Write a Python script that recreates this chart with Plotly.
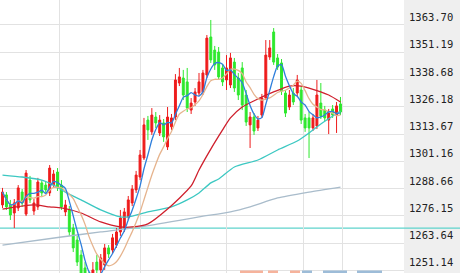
import plotly.graph_objects as go
import pandas as pd

# ---------------- data ----------------
opens = [1281.2,1285.8,1281.2,1277.5,1279.8,1287.1,1277.0,1292.6,1278.4,1280.3,
         1291.3,1290.3,1286.7,1290.3,1296.3,1290.3,1278.0,1278.9,1270.6,1265.1,
         1258.2,1252.3,1246.8,1243.1,1255.0,1251.4,1253.7,1261.5,1260.5,1262.8,
         1268.8,1270.6,1275.7,1282.1,1288.1,1294.0,1302.7,1320.1,1314.7,1321.5,
         1314.2,1318.8,1307.8,1317.0,1321.5,1337.1,1339.4,1337.6,1324.7,1328.4,
         1332.5,1333.0,1340.8,1358.2,1352.2,1351.3,1344.0,1338.5,1336.2,1346.7,
         1339.4,1344.0,1331.6,1317.9,1321.5,1316.5,1322.4,1330.2,1349.0,1360.5,
         1348.6,1346.3,1332.5,1326.1,1332.5,1332.5,1333.9,1321.1,1321.1,1316.5,
         1317.4,1327.9,1324.7,1320.1,1325.2,1322.4,1327.5]
closes = [1287.1,1280.3,1276.6,1282.1,1289.0,1282.1,1295.8,1283.5,1282.1,1291.7,
          1286.7,1288.1,1298.1,1295.4,1289.0,1280.3,1281.2,1268.8,1261.5,1255.0,
          1249.1,1244.5,1243.1,1251.4,1251.4,1256.9,1261.5,1258.7,1266.1,1268.8,
          1275.2,1278.0,1283.5,1288.5,1294.9,1304.1,1317.9,1315.6,1322.4,1318.8,
          1320.1,1312.4,1321.5,1321.1,1338.5,1339.9,1331.6,1325.6,1327.9,1333.0,
          1337.6,1341.7,1357.7,1347.7,1345.4,1339.9,1337.6,1344.0,1348.6,1334.8,
          1331.6,1327.0,1319.2,1321.5,1315.1,1320.1,1330.2,1349.9,1353.2,1346.7,
          1344.4,1333.4,1323.3,1331.6,1328.4,1338.5,1320.1,1316.5,1316.5,1321.1,
          1331.6,1322.0,1321.1,1323.3,1322.4,1326.6,1323.8]
highs = [1289.0,1287.1,1283.5,1283.9,1290.3,1288.5,1297.2,1294.5,1283.9,1293.6,
         1292.6,1292.2,1299.5,1297.2,1298.1,1292.6,1283.5,1280.7,1272.5,1267.0,
         1260.5,1255.0,1250.5,1255.0,1258.2,1258.7,1263.3,1262.8,1267.9,1270.6,
         1278.9,1279.8,1285.3,1290.3,1296.8,1306.4,1321.1,1322.0,1325.6,1323.8,
         1322.4,1320.6,1326.1,1322.9,1341.2,1344.0,1343.1,1344.0,1330.2,1334.8,
         1341.7,1343.1,1359.1,1366.0,1354.1,1353.6,1345.8,1349.9,1350.9,1348.6,
         1341.7,1346.7,1333.9,1323.8,1323.3,1322.0,1332.1,1356.8,1356.8,1362.3,
         1350.4,1348.1,1333.9,1333.9,1334.8,1340.8,1335.7,1322.9,1323.8,1322.9,
         1338.5,1337.1,1326.6,1325.2,1327.0,1328.4,1330.7]
lows = [1279.8,1278.9,1274.3,1270.6,1278.4,1280.3,1276.1,1282.1,1276.6,1278.9,
        1284.8,1286.7,1285.3,1289.0,1287.6,1278.9,1276.1,1267.0,1259.6,1253.2,
        1244.5,1241.3,1237.6,1241.3,1247.7,1248.6,1251.4,1256.9,1258.7,1261.5,
        1267.0,1268.8,1274.3,1280.7,1286.7,1292.6,1301.8,1311.0,1313.3,1316.5,
        1312.8,1310.1,1306.4,1315.6,1320.1,1335.7,1329.3,1323.8,1322.9,1326.6,
        1331.1,1331.6,1339.4,1346.3,1343.1,1338.5,1335.7,1333.9,1334.8,1333.0,
        1329.3,1324.7,1317.4,1307.3,1313.3,1315.1,1321.1,1329.3,1347.7,1345.4,
        1343.1,1331.6,1321.5,1324.7,1327.0,1331.1,1318.3,1314.7,1302.7,1315.1,
        1316.0,1320.6,1319.7,1313.7,1321.1,1314.2,1322.4]

# long moving averages (at sample candles)
ma30_idx = [0, 8, 12, 15, 20, 25, 30, 33, 37, 42, 48, 50, 53, 56, 58, 61, 65, 69, 73, 76, 78, 83, 86]
ma30_val = [1279.3, 1281.2, 1280.3, 1279.8, 1277.5, 1273.4, 1271.1, 1271.1, 1272.5, 1279.3, 1289.9,
            1297.2, 1306.8, 1315.6, 1321.1, 1326.1, 1329.8, 1333.0, 1335.7, 1335.7, 1334.8, 1331.6, 1328.4]
ma60_idx = [0, 5, 10, 13, 16, 20, 25, 30, 32, 37, 43, 47, 50, 53, 55, 59, 65, 70, 75, 78, 81, 86]
ma60_val = [1294.9, 1294.0, 1292.6, 1290.3, 1287.1, 1283.5, 1278.9, 1275.7, 1275.7, 1278.0, 1280.3,
            1283.5, 1286.7, 1291.3, 1293.1, 1298.6, 1301.8, 1306.4, 1310.5, 1314.2, 1318.3, 1324.3]
ma120_idx = [0, 15, 25, 35, 50, 58, 63, 70, 78, 86]
ma120_val = [1262.8, 1266.5, 1268.8, 1271.1, 1275.7, 1278.0, 1280.3, 1284.4, 1287.1, 1289.4]

price_levels = [1363.70, 1351.19, 1338.68, 1326.18, 1313.67, 1301.16, 1288.66, 1276.15, 1263.64, 1251.14]
price_labels = ["1363.70", "1351.19", "1338.68", "1326.18", "1313.67", "1301.16", "1288.66", "1276.15", "1263.64", "1251.14"]
ref_level = 1270.6
month_breaks = [14.4, 35.0, 56.9, 76.5, 86.6]

# ---------------- figure ----------------
idx = list(range(len(closes)))
cs = pd.Series(closes)
ma5 = cs.rolling(5, min_periods=1).mean()
ma10 = cs.rolling(10, min_periods=1).mean()

W, H = 460, 273
plot_w = 404
step = 3.93
x0 = -2.5 / step
x1 = x0 + plot_w / step

fig = go.Figure()
fig.add_trace(go.Candlestick(
    x=idx, open=opens, high=highs, low=lows, close=closes,
    increasing=dict(line=dict(color="#ee1c1c", width=1), fillcolor="#ee1c1c"),
    decreasing=dict(line=dict(color="#2ee82e", width=1), fillcolor="#2ee82e"),
    whiskerwidth=0, showlegend=False, hoverinfo="skip"))

def line(x, y, color, w=1.3):
    fig.add_trace(go.Scatter(x=x, y=y, mode="lines", line=dict(color=color, width=w, shape="spline", smoothing=0.6),
                             showlegend=False, hoverinfo="skip"))

line(ma120_idx, ma120_val, "#a9bccb")
line(ma60_idx, ma60_val, "#3cc8c2")
line(ma30_idx, ma30_val, "#cf1f2c")
line(idx, list(ma10), "#e6b48e")
line(idx, list(ma5), "#2f7fdc")

shapes = [
    dict(type="rect", xref="paper", yref="paper", x0=plot_w / W, x1=1, y0=0, y1=1,
         fillcolor="#efefef", line=dict(width=0), layer="below"),
    dict(type="line", xref="paper", yref="y", x0=0, x1=1, y0=ref_level, y1=ref_level,
         line=dict(color="#5fd3cc", width=1.2), layer="between"),
]
# faint watermark blocks at the bottom edge
for a, b, c in [(240, 263, "#f6b39c"), (268, 278, "#f6b39c"), (290, 300, "#f6b39c"),
                (302, 312, "#9dbcd8"), (323, 347, "#9dbcd8"), (357, 382, "#9dbcd8")]:
    shapes.append(dict(type="rect", xref="paper", yref="paper", x0=a / W, x1=b / W, y0=0, y1=2.5 / H,
                       fillcolor=c, line=dict(width=0), layer="above"))

annotations = []
for v, t in zip(price_levels, price_labels):
    annotations.append(dict(xref="paper", yref="y", x=407 / W, y=v, text=t, showarrow=False,
                            xanchor="left", yanchor="middle", yshift=8,
                            font=dict(family="DejaVu Sans Mono", size=10.5, color="#222222")))

fig.update_layout(
    width=W, height=H, margin=dict(l=0, r=0, t=0, b=0),
    paper_bgcolor="white", plot_bgcolor="white",
    shapes=shapes, annotations=annotations,
    xaxis=dict(domain=[0, plot_w / W], range=[x0, x1], tickvals=month_breaks, showticklabels=False,
               showgrid=True, gridcolor="#e2e2e2", gridwidth=1, zeroline=False, showline=False,
               rangeslider=dict(visible=False), fixedrange=True),
    yaxis=dict(range=[1249.99, 1375.16], tickvals=price_levels, showticklabels=False,
               showgrid=True, gridcolor="#e2e2e2", gridwidth=1, zeroline=False, showline=False,
               fixedrange=True),
)

fig.write_html("out.html", config={"displayModeBar": False, "staticPlot": True})
